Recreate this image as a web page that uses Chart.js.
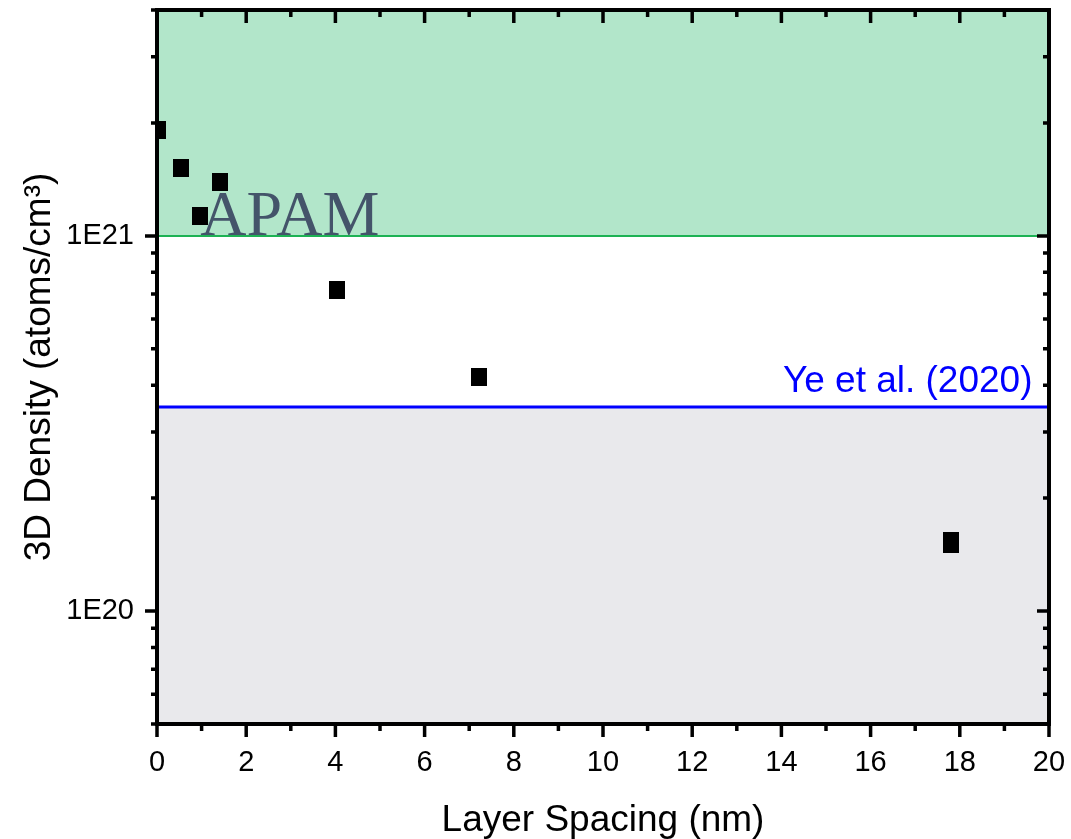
<!DOCTYPE html>
<html>
<head>
<meta charset="utf-8">
<script src="https://cdn.jsdelivr.net/npm/chart.js@4"></script>
<style>
  html, body { margin: 0; padding: 0; background: #fff; }
  #wrap { width: 1071px; height: 839px; }
</style>
</head>
<body>
<div id="wrap"><canvas id="densityChart"></canvas></div>
<script>
/* ---- data ---- */
const spacingNm = [0.03, 0.53, 0.96, 1.42, 4.03, 7.21, 17.8, 17.8];
const density3D = [1.92e21, 1.52e21, 1.13e21, 1.39e21, 7.18e20, 4.21e20, 1.54e20, 1.51e20];

const apamLevel = 1e21;      // lower bound of APAM band
const yeLevel = 3.5e20;      // Ye et al. (2020)

const xMin = 0, xMax = 20;
const yMin = 5e19, yMax = 4e21;
const xMajorTicks = [0, 2, 4, 6, 8, 10, 12, 14, 16, 18, 20];
const xMinorTicks = [1, 3, 5, 7, 9, 11, 13, 15, 17, 19];
const yMajorTicks = [1e20, 1e21];
const yMinorTicks = [5e19, 6e19, 7e19, 8e19, 9e19, 2e20, 3e20, 4e20, 5e20, 6e20, 7e20, 8e20, 9e20, 2e21, 3e21, 4e21];

const FONT = "'Liberation Sans', Arial, sans-serif";

/* square-ish marker like the original */
const marker = document.createElement('canvas');
marker.width = 16; marker.height = 18;
(function () {
  const c = marker.getContext('2d');
  c.fillStyle = '#000';
  c.fillRect(0, 0, 16, 18);
})();

/* ---- frame, ticks and labels drawn on the library scales ---- */
const framePlugin = {
  id: 'frame',
  afterDatasetsDraw(chart) {
    const { ctx, chartArea: a, scales: { x, y } } = chart;
    ctx.save();

    // annotations
    ctx.fillStyle = '#44546a';
    ctx.font = "64px 'Liberation Serif', 'Times New Roman', serif";
    ctx.textBaseline = 'alphabetic';
    ctx.textAlign = 'left';
    ctx.fillText('APAM', x.getPixelForValue(0.97), y.getPixelForValue(apamLevel) - 1);

    ctx.fillStyle = '#0000ff';
    ctx.font = '37px ' + FONT;
    ctx.textAlign = 'right';
    ctx.fillText('Ye et al. (2020)', x.getPixelForValue(19.63), y.getPixelForValue(yeLevel) - 15);

    // ticks
    ctx.strokeStyle = '#000';
    ctx.lineWidth = 3.5;
    ctx.beginPath();
    const tick = (x0, y0, x1, y1) => { ctx.moveTo(x0, y0); ctx.lineTo(x1, y1); };
    xMajorTicks.forEach(v => {
      const px = x.getPixelForValue(v);
      tick(px, a.bottom, px, a.bottom + 13);
      tick(px, a.top, px, a.top + 13);
    });
    xMinorTicks.forEach(v => {
      const px = x.getPixelForValue(v);
      tick(px, a.bottom, px, a.bottom + 7);
      tick(px, a.top, px, a.top + 7);
    });
    yMajorTicks.forEach(v => {
      const py = y.getPixelForValue(v);
      tick(a.left, py, a.left - 12, py);
      tick(a.right, py, a.right - 12, py);
    });
    yMinorTicks.forEach(v => {
      const py = y.getPixelForValue(v);
      tick(a.left, py, a.left - 6, py);
      tick(a.right, py, a.right - 6, py);
    });
    ctx.stroke();

    // frame
    ctx.lineWidth = 4;
    ctx.strokeRect(a.left, a.top, a.right - a.left, a.bottom - a.top);
    ctx.restore();
  }
};

new Chart(document.getElementById('densityChart'), {
  type: 'scatter',
  data: {
    datasets: [
      {
        label: 'APAM',
        type: 'line',
        data: [{ x: xMin, y: apamLevel }, { x: xMax, y: apamLevel }],
        borderColor: '#1db254',
        borderWidth: 2,
        backgroundColor: '#b2e6ca',
        fill: 'end',
        pointRadius: 0,
        order: 3
      },
      {
        label: 'Ye et al. (2020)',
        type: 'line',
        data: [{ x: xMin, y: yeLevel }, { x: xMax, y: yeLevel }],
        borderColor: '#0000ff',
        borderWidth: 3,
        backgroundColor: '#e9e9ec',
        fill: 'start',
        pointRadius: 0,
        order: 2
      },
      {
        label: 'edge',
        type: 'line',
        data: [{ x: xMin, y: yMin }, { x: xMin, y: yeLevel }],
        borderColor: '#4e79a7',
        borderWidth: 6,
        fill: false,
        pointRadius: 0,
        order: 2
      },
      {
        label: '3D density',
        data: spacingNm.map((v, i) => ({ x: v, y: density3D[i] })),
        pointStyle: marker,
        pointRadius: 9,
        order: 1
      }
    ]
  },
  options: {
    responsive: true,
    maintainAspectRatio: false,
    animation: false,
    layout: { padding: { top: 8, right: 22, left: 0, bottom: 0 } },
    plugins: { legend: { display: false }, tooltip: { enabled: false } },
    scales: {
      x: {
        type: 'linear',
        min: xMin, max: xMax,
        grid: { display: false },
        border: { display: false },
        afterBuildTicks: s => { s.ticks = xMajorTicks.map(v => ({ value: v })); },
        afterFit: s => { s.height = 115; s.paddingLeft = 0; s.paddingRight = 0; },
        ticks: { color: '#000', padding: 14, font: { family: FONT, size: 29 }, maxRotation: 0 },
        title: { display: true, text: 'Layer Spacing (nm)', color: '#000', font: { family: FONT, size: 37 }, padding: { bottom: -4 } }
      },
      y: {
        type: 'logarithmic',
        min: yMin, max: yMax,
        grid: { display: false },
        border: { display: false },
        afterBuildTicks: s => { s.ticks = yMajorTicks.map(v => ({ value: v })); },
        afterFit: s => { s.width = 157; s.paddingTop = 0; s.paddingBottom = 0; },
        ticks: {
          color: '#000', padding: 15, font: { family: FONT, size: 29 },
          callback: v => v === 1e21 ? '1E21' : (v === 1e20 ? '1E20' : '')
        },
        title: { display: true, text: '3D Density (atoms/cm³)', color: '#000', font: { family: FONT, size: 37 }, padding: { top: 18 } }
      }
    }
  },
  plugins: [framePlugin]
});
</script>
</body>
</html>
